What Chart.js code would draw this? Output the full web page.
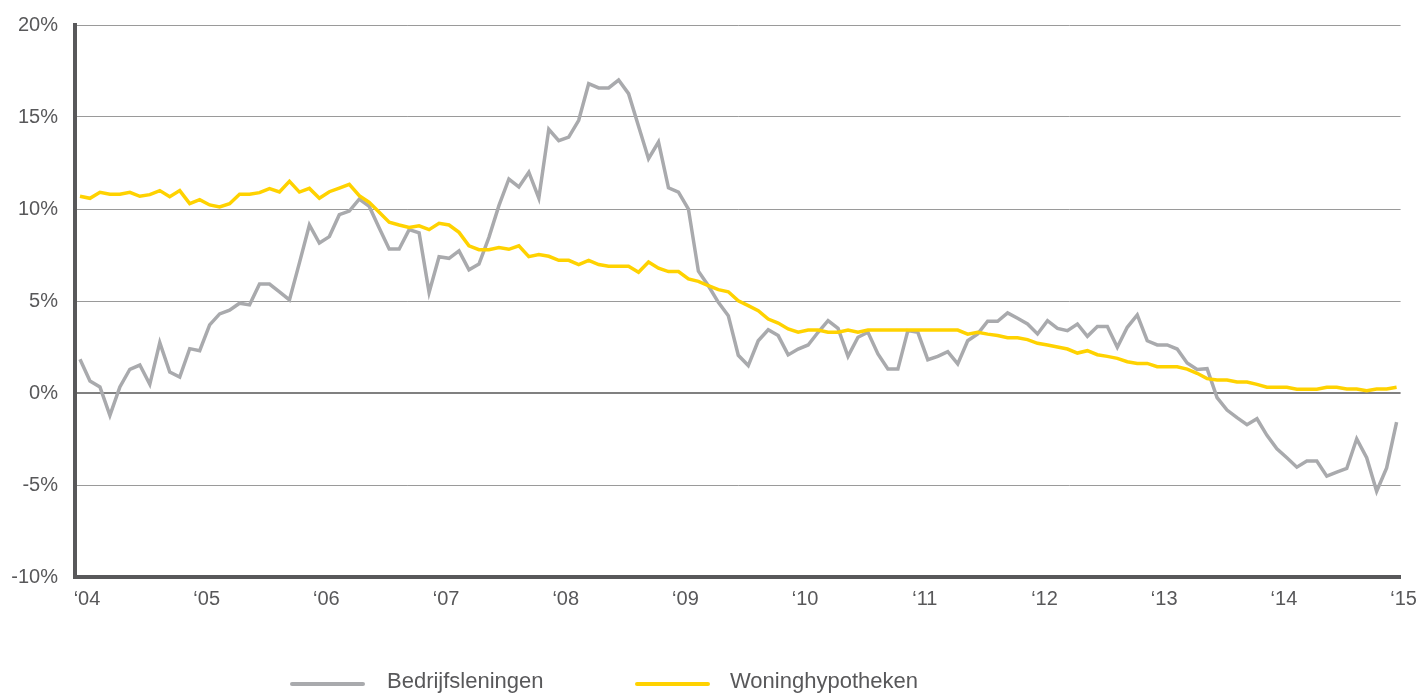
<!DOCTYPE html>
<html lang="nl">
<head>
<meta charset="utf-8">
<title>Kredietgroei bedrijven en huishoudens</title>
<script src="https://cdn.jsdelivr.net/npm/chart.js@4.4.1/dist/chart.umd.min.js"></script>
<style>
  html, body { margin: 0; padding: 0; background: #ffffff; }
  #wrap { width: 1420px; height: 695px; }
</style>
</head>
<body>
<div id="wrap"><canvas id="creditChart" width="1420" height="695"></canvas></div>
<script>
// jaarlabels op de x-as (maandreeks jan '04 t/m jan '15)
const years = ['04', '05', '06', '07', '08', '09', '10', '11', '12', '13', '14', '15'];

// y-as in procenten
const yMin = -10;
const yMax = 20;
const yStep = 5;

// groei op jaarbasis, per maand (%)
const bedrijfsleningen = [
  1.83, 0.65, 0.33, -1.22, 0.33, 1.29, 1.52, 0.47, 2.74, 1.14, 0.87, 2.41,
  2.30, 3.70, 4.30, 4.50, 4.88, 4.79, 5.92, 5.92, 5.50, 5.06, 7.07, 9.13,
  8.15, 8.50, 9.69, 9.89, 10.54, 10.14, 8.97, 7.83, 7.83, 8.88, 8.70, 5.47,
  7.41, 7.32, 7.72, 6.70, 7.01, 8.46, 10.18, 11.63, 11.20, 12.00, 10.59, 14.33,
  13.71, 13.91, 14.82, 16.81, 16.58, 16.58, 17.01, 16.27, 14.50, 12.73, 13.64, 11.15,
  10.92, 10.00, 6.62, 5.83, 4.93, 4.20, 2.05, 1.49, 2.84, 3.44, 3.12, 2.07,
  2.39, 2.61, 3.30, 3.93, 3.51, 1.99, 3.03, 3.30, 2.12, 1.30, 1.30, 3.39,
  3.30, 1.81, 1.99, 2.25, 1.58, 2.84, 3.21, 3.90, 3.90, 4.35, 4.06, 3.75,
  3.21, 3.93, 3.51, 3.39, 3.75, 3.08, 3.62, 3.62, 2.48, 3.57, 4.24, 2.84,
  2.61, 2.61, 2.39, 1.63, 1.28, 1.32, -0.25, -0.93, -1.34, -1.72, -1.40, -2.30,
  -3.03, -3.52, -4.03, -3.70, -3.70, -4.52, -4.30, -4.10, -2.49, -3.52, -5.34, -4.07,
  -1.58
];

const woninghypotheken = [
  10.69, 10.58, 10.91, 10.80, 10.80, 10.91, 10.69, 10.78, 11.00, 10.67, 11.00, 10.29,
  10.51, 10.22, 10.11, 10.29, 10.80, 10.80, 10.89, 11.11, 10.93, 11.50, 10.92, 11.12,
  10.58, 10.94, 11.14, 11.34, 10.72, 10.36, 9.82, 9.28, 9.13, 9.00, 9.09, 8.88,
  9.22, 9.13, 8.73, 8.00, 7.79, 7.79, 7.90, 7.81, 8.00, 7.41, 7.52, 7.43,
  7.21, 7.21, 6.98, 7.21, 6.98, 6.89, 6.89, 6.89, 6.56, 7.12, 6.78, 6.60,
  6.60, 6.20, 6.07, 5.83, 5.62, 5.50, 5.01, 4.75, 4.47, 4.02, 3.80, 3.48,
  3.30, 3.42, 3.42, 3.30, 3.30, 3.42, 3.30, 3.42, 3.42, 3.42, 3.42, 3.42,
  3.42, 3.42, 3.42, 3.42, 3.42, 3.20, 3.30, 3.20, 3.12, 3.00, 3.00, 2.90,
  2.70, 2.61, 2.50, 2.39, 2.17, 2.30, 2.08, 1.99, 1.88, 1.70, 1.61, 1.61,
  1.43, 1.43, 1.43, 1.30, 1.07, 0.78, 0.71, 0.71, 0.60, 0.60, 0.47, 0.31,
  0.31, 0.31, 0.20, 0.20, 0.20, 0.31, 0.31, 0.22, 0.22, 0.13, 0.22, 0.22,
  0.31
];

const GREY = '#a9aaad';
const YELLOW = '#ffd200';
const AXIS = '#58585a';
const TEXT = '#58585a';
const FONT = "'Liberation Sans', Arial, sans-serif";

// maandindex als x-waarde
const toPoints = (values) => values.map((v, i) => ({ x: i, y: v }));

// legenda onder de grafiek, zoals in het origineel niet gecentreerd
const bottomLegend = {
    id: 'bottomLegend',
    afterDraw(chart, args, opts) {
        const ctx = chart.ctx;
        ctx.save();
        ctx.font = opts.font;
        ctx.textBaseline = 'middle';
        ctx.lineCap = 'round';
        opts.items.forEach(item => {
            const ds = chart.data.datasets[item.dataset];
            ctx.strokeStyle = ds.borderColor;
            ctx.lineWidth = 4;
            ctx.beginPath();
            ctx.moveTo(item.x + 2, opts.y + 2);
            ctx.lineTo(item.x + opts.lineLength - 2, opts.y + 2);
            ctx.stroke();
            ctx.fillStyle = opts.color;
            ctx.fillText(ds.label, item.x + item.textOffset, opts.y);
        });
        ctx.restore();
    }
};

new Chart(document.getElementById('creditChart').getContext('2d'), {
    type: 'line',
    data: {
        datasets: [
            {
                label: 'Bedrijfsleningen',
                data: toPoints(bedrijfsleningen),
                borderColor: GREY,
                backgroundColor: GREY,
                borderWidth: 3.5,
                pointRadius: 0,
                tension: 0,
                order: 1
            },
            {
                label: 'Woninghypotheken',
                data: toPoints(woninghypotheken),
                borderColor: YELLOW,
                backgroundColor: YELLOW,
                borderWidth: 3.5,
                pointRadius: 0,
                tension: 0,
                order: 0
            }
        ]
    },
    options: {
        responsive: false,
        animation: false,
        layout: { padding: { top: 25, right: 19, bottom: 0, left: 0 } },
        plugins: {
            legend: { display: false },
            tooltip: { enabled: false },
            bottomLegend: {
                y: 682,
                lineLength: 75,
                font: "22px " + FONT,
                color: TEXT,
                items: [
                    { dataset: 0, x: 290, textOffset: 97 },
                    { dataset: 1, x: 635, textOffset: 95 }
                ]
            }
        },
        scales: {
            x: {
                type: 'linear',
                min: -0.5,
                max: bedrijfsleningen.length - 0.6,
                afterBuildTicks: (scale) => {
                    scale.ticks = years.map((_, k) => ({ value: k * 12 }));
                },
                afterFit: (scale) => { scale.height = 118; },
                grid: { display: false, drawTicks: false },
                border: { display: true, width: 4, color: AXIS },
                ticks: {
                    padding: 10,
                    labelOffset: 7,
                    maxRotation: 0,
                    autoSkip: false,
                    color: TEXT,
                    font: { family: FONT, size: 20 },
                    callback: (value, index) => '\u2018' + years[index]
                }
            },
            y: {
                min: yMin,
                max: yMax,
                afterFit: (scale) => {
                    scale.width = 75;
                    // tick-padding niet ook boven/onder laten meetellen
                    scale.paddingTop = 0;
                    scale.paddingBottom = 0;
                },
                grid: {
                    drawTicks: false,
                    color: (ctx) => ctx.tick && ctx.tick.value === 0 ? '#808080' : '#9a9a9a',
                    lineWidth: (ctx) => ctx.tick && ctx.tick.value === 0 ? 2 : 1
                },
                border: { display: true, width: 4, color: AXIS },
                ticks: {
                    stepSize: yStep,
                    padding: 17,
                    color: TEXT,
                    font: { family: FONT, size: 20 },
                    callback: (value) => value + '%'
                }
            }
        }
    },
    plugins: [bottomLegend]
});
</script>
</body>
</html>
